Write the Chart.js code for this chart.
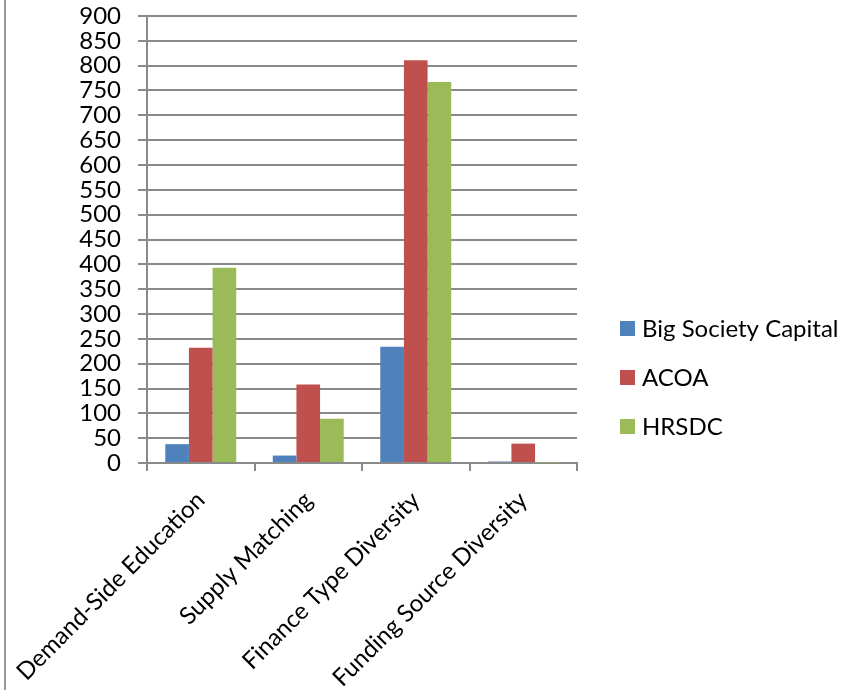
<!DOCTYPE html>
<html>
<head>
<meta charset="utf-8">
<script src="https://cdn.jsdelivr.net/npm/chart.js@4/dist/chart.umd.min.js"></script>
<style>
  html, body { margin: 0; padding: 0; background: #fff; }
  #wrap { position: relative; width: 843px; height: 690px; }
</style>
</head>
<body>
<div id="wrap"><canvas id="c" width="843" height="690"></canvas></div>
<script>
// Categories and series values
const categories = ['Demand-Side Education', 'Supply Matching', 'Finance Type Diversity', 'Funding Source Diversity'];
const seriesNames = ['Big Society Capital', 'ACOA', 'HRSDC'];
const bigSocietyCapital = [38, 15, 234, 3];
const acoa = [232, 158, 811, 39];
const hrsdc = [393, 89, 767, 1];
const seriesColors = ['#4F81BD', '#C0504D', '#9BBB59'];
const yMin = 0, yMax = 900, yStep = 50;

const FONT = 'Lato, "Open Sans", sans-serif';
const gridColor = '#8a8a8a';

// Legend drawn at the right of the plot, one row per series
const sideLegend = {
  id: 'sideLegend',
  afterDraw(chart) {
    const ctx = chart.ctx;
    ctx.save();
    ctx.font = '24px ' + FONT;
    ctx.textBaseline = 'middle';
    ctx.textAlign = 'left';
    chart.data.datasets.forEach((ds, i) => {
      const cy = 328 + i * 49;
      ctx.fillStyle = ds.backgroundColor;
      ctx.fillRect(620, cy - 7, 15, 15);
      ctx.fillStyle = '#000';
      ctx.fillText(ds.label, 642, cy + 1);
    });
    // left frame edge
    ctx.strokeStyle = '#9a9a9a';
    ctx.lineWidth = 2;
    ctx.beginPath();
    ctx.moveTo(5, 0);
    ctx.lineTo(5, 690);
    ctx.stroke();
    ctx.restore();
  }
};

new Chart(document.getElementById('c'), {
  type: 'bar',
  data: {
    labels: categories,
    datasets: [bigSocietyCapital, acoa, hrsdc].map((vals, i) => ({
      label: seriesNames[i],
      data: vals,
      backgroundColor: seriesColors[i],
      borderWidth: 0,
      categoryPercentage: 0.66,
      barPercentage: 1.0
    }))
  },
  options: {
    responsive: false,
    animation: false,
    devicePixelRatio: 1,
    layout: { padding: { top: 16, right: 266, left: 0, bottom: 0 } },
    plugins: {
      legend: { display: false },
      tooltip: { enabled: false }
    },
    scales: {
      x: {
        grid: {
          offset: true,
          drawOnChartArea: false,
          drawTicks: true,
          tickLength: 8,
          color: gridColor,
          lineWidth: 2
        },
        border: { color: gridColor, width: 2 },
        ticks: {
          color: '#000',
          font: { family: FONT, size: 24 },
          minRotation: 45,
          maxRotation: 45,
          padding: 15,
          autoSkip: false
        },
        afterFit(s) { s.height = 227; s.paddingLeft = 0; s.paddingRight = 0; }
      },
      y: {
        min: yMin,
        max: yMax,
        ticks: {
          stepSize: yStep,
          autoSkip: false,
          color: '#000',
          font: { family: FONT, size: 24 },
          padding: 17
        },
        grid: {
          color: gridColor,
          lineWidth: 2,
          tickLength: 9
        },
        border: { color: gridColor, width: 2 },
        afterFit(s) { s.width = 147; s.paddingTop = 0; s.paddingBottom = 0; }
      }
    }
  },
  plugins: [sideLegend]
});
</script>
</body>
</html>
